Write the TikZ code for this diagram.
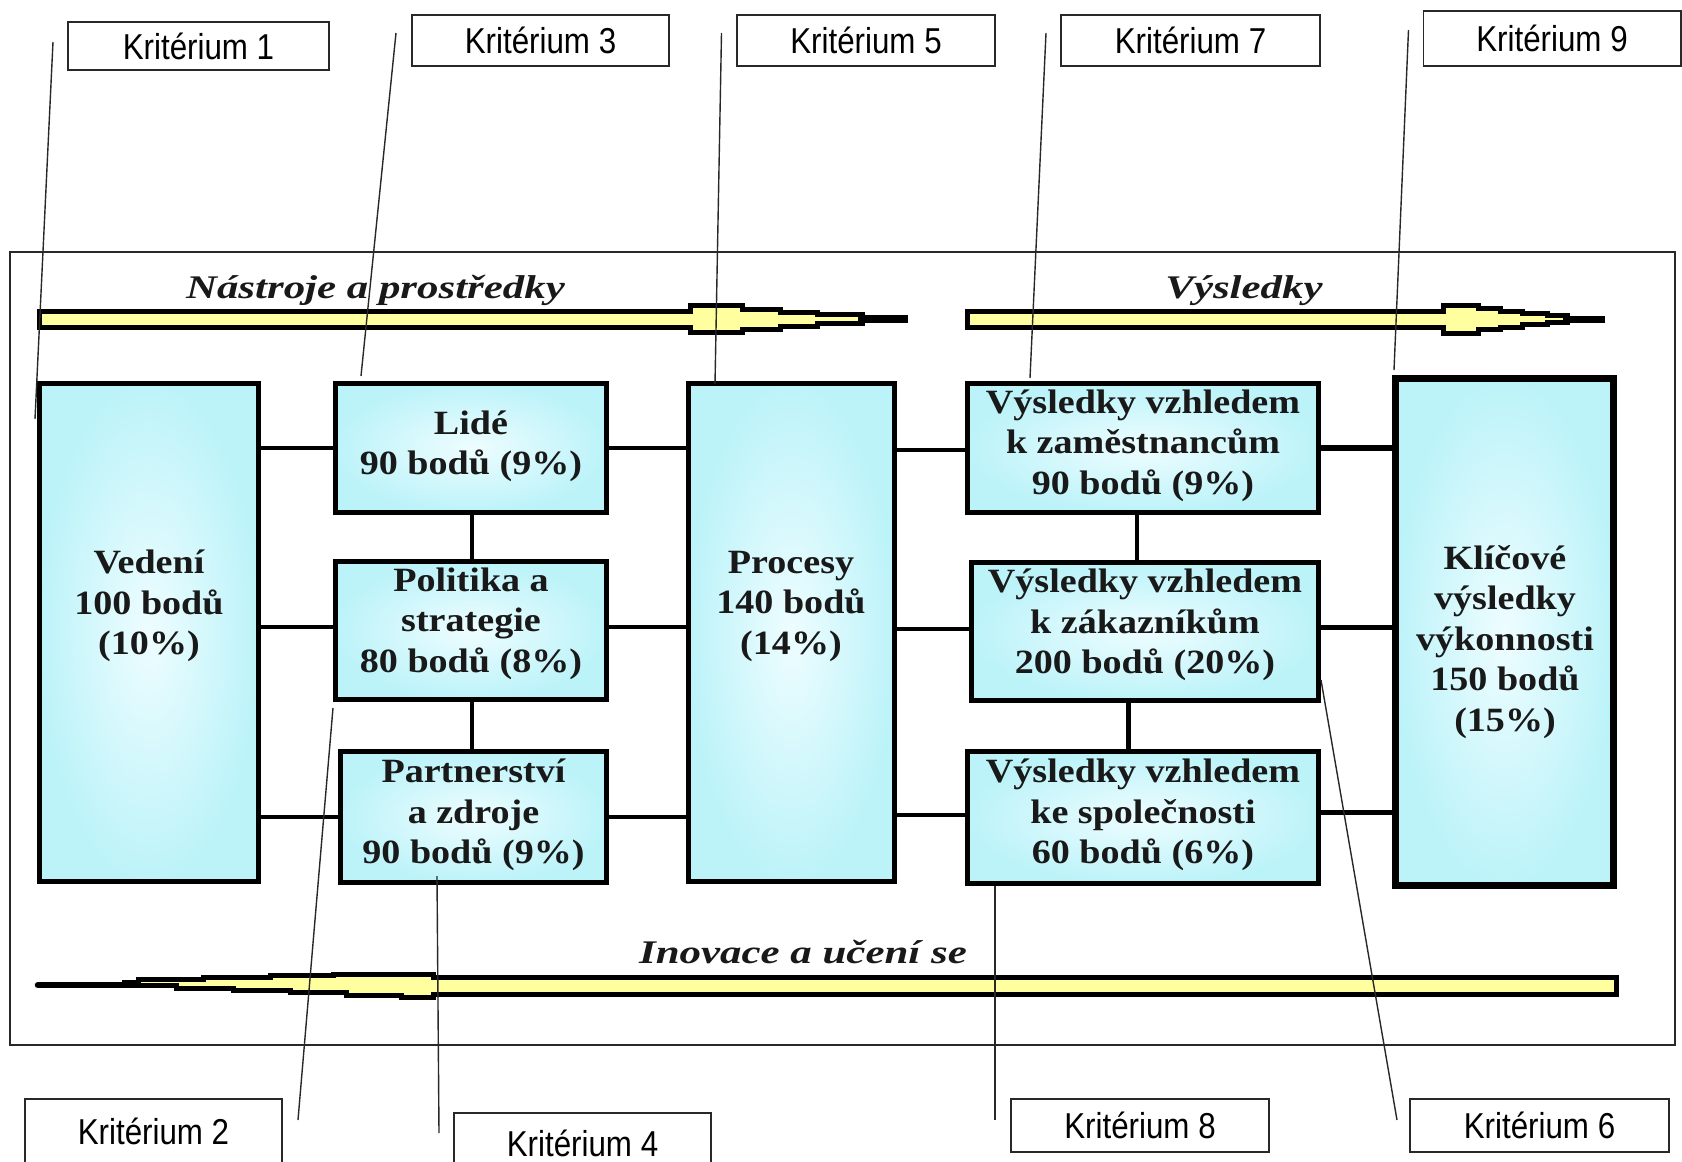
\documentclass[tikz,border=0pt]{standalone}
\usepackage{fontspec}
\setmainfont{Liberation Serif}
\newfontfamily\boxfont[FakeStretch=1.12]{Liberation Serif}
\newfontfamily\flowfont[FakeStretch=1.3]{Liberation Serif}
\newfontfamily\critfont[FakeStretch=0.87]{Liberation Sans}
\usetikzlibrary{calc}

\definecolor{boxedge}{RGB}{188,243,249}
\definecolor{boxmid}{RGB}{238,253,255}
\definecolor{flowyellow}{RGB}{255,255,160}
\definecolor{hair}{RGB}{40,40,40}

\begin{document}
\begin{tikzpicture}[x=1pt,y=-1pt,
  area/.style={draw=black, line width=5pt, inner sep=0pt,
    inner color=boxmid, outer color=boxedge},
  boxtext/.style={font=\boxfont\bfseries\fontsize{34}{40.5}\selectfont,
    align=center, inner sep=0pt, text=black!90},
  crit/.style={draw=hair, line width=1.6pt, fill=white, inner sep=0pt,
    font=\critfont\fontsize{36}{40}\selectfont},
  leader/.style={draw=hair, line width=1.4pt},
  conn/.style={line width=4.3pt},
  connthick/.style={line width=5.7pt},
  flowarrow/.style={draw=black, line width=5pt, fill=flowyellow, line join=miter},
  flowlabel/.style={font=\flowfont\bfseries\itshape\fontsize{33}{36}\selectfont,
    inner sep=0pt, anchor=base, text=black!90}
]
\fill[white] (0,0) rectangle (1682,1162);
\useasboundingbox (0,0) rectangle (1682,1162);

% outer frame
\draw[hair, line width=1.8pt] (10,252) rectangle (1675,1045);

% flow arrows
\draw[flowarrow] (39.5,311) -- (690,311) -- (690,305.5) -- (742,305.5) -- (742,309)
  -- (780,309) -- (780,312) -- (817,312) -- (817,314.5) -- (862,314.5) -- (862,323.5)
  -- (817,323.5) -- (817,326) -- (780,326) -- (780,329) -- (742,329) -- (742,332.5)
  -- (690,332.5) -- (690,327) -- (39.5,327) -- cycle;
\fill (858,315) rectangle (908,323);

\draw[flowarrow] (967.5,311) -- (1443,311) -- (1443,305) -- (1478,305) -- (1478,308.5)
  -- (1500,308.5) -- (1500,311) -- (1522,311) -- (1522,313.5) -- (1547,313.5)
  -- (1547,315.5) -- (1567,315.5) -- (1567,322.5) -- (1547,322.5) -- (1547,324.5)
  -- (1522,324.5) -- (1522,327) -- (1500,327) -- (1500,329.5) -- (1478,329.5)
  -- (1478,333) -- (1443,333) -- (1443,327) -- (967.5,327) -- cycle;
\fill (1563,316) rectangle (1605,323);

\draw[flowarrow] (1616.5,977.5) -- (433,977.5) -- (433,974.2) -- (333,974.2) -- (333,975.8)
  -- (270,975.8) -- (270,977.5) -- (203,977.5) -- (203,979.2) -- (138,979.2)
  -- (138,982.5) -- (124,982.5) -- (124,985.8) -- (176.7,985.8) -- (176.7,988.2)
  -- (233,988.2) -- (233,990.8) -- (290,990.8) -- (290,992.5) -- (346.7,992.5)
  -- (346.7,995.8) -- (401.7,995.8) -- (401.7,997.5) -- (433,997.5) -- (433,994.5)
  -- (1616.5,994.5) -- cycle;
\draw[line width=6.5pt, line cap=round] (38,985.2) -- (126,985.2);

\node[flowlabel] (tools) at (375.5,298) {Nástroje a prostředky};
\node[flowlabel] (results) at (1244,298) {Výsledky};
\node[flowlabel] (learning) at (803,963) {Inovace a učení se};

% criteria boxes
\node[area, minimum width=219, minimum height=498] (vedeni) at (149,632.5) {};
\node[area, minimum width=271, minimum height=129] (lide) at (471,448) {};
\node[area, minimum width=271, minimum height=138] (politika) at (471,630.5) {};
\node[area, minimum width=266, minimum height=131] (partner) at (473.5,817) {};
\node[area, minimum width=206, minimum height=498] (procesy) at (791.5,632.5) {};
\node[area, minimum width=351, minimum height=129] (vkzam) at (1143,448) {};
\node[area, minimum width=347, minimum height=138] (vkzak) at (1145,631.5) {};
\node[area, minimum width=351, minimum height=132] (vkspol) at (1143,817.5) {};
\node[area, line width=7pt, minimum width=218, minimum height=507] (klic) at (1504.5,632) {};

% links between the boxes
\draw[conn] (lide.west) -- (lide.west -| vedeni.east);
\draw[conn] ([yshift=3.5pt]politika.west) -- ([yshift=3.5pt]politika.west -| vedeni.east);
\draw[conn] (partner.west) -- (partner.west -| vedeni.east);
\draw[conn] (lide.east) -- (lide.east -| procesy.west);
\draw[conn] ([yshift=3.5pt]politika.east) -- ([yshift=3.5pt]politika.east -| procesy.west);
\draw[conn] (partner.east) -- (partner.east -| procesy.west);
\draw[conn] ([xshift=1pt]lide.south) -- ([xshift=1pt]lide.south |- politika.north);
\draw[conn] ([xshift=1pt]politika.south) -- ([xshift=1pt]politika.south |- partner.north);
\draw[conn] ([yshift=-2pt]vkzam.west) -- ([yshift=-2pt]vkzam.west -| procesy.east);
\draw[conn] ([yshift=2.5pt]vkzak.west) -- ([yshift=2.5pt]vkzak.west -| procesy.east);
\draw[conn] ([yshift=2.5pt]vkspol.west) -- ([yshift=2.5pt]vkspol.west -| procesy.east);
\draw[conn] ([xshift=-6pt]vkzam.south) -- ([xshift=-6pt]vkzam.south |- vkzak.north);
\draw[conn] ([xshift=-16.5pt]vkzak.south) -- ([xshift=-16.5pt]vkzak.south |- vkspol.north);
\draw[connthick] (vkzam.east) -- (vkzam.east -| klic.west);
\draw[connthick] ([yshift=4pt]vkzak.east) -- ([yshift=4pt]vkzak.east -| klic.west);
\draw[connthick] ([yshift=5pt]vkspol.east) -- ([yshift=5pt]vkspol.east -| klic.west);

% box captions
\node[boxtext] (vedeni-t) at (149,606) {Vedení\\100 bodů\\(10\%)};
\node[boxtext] (lide-t) at (471,446.5) {Lidé\\90 bodů (9\%)};
\node[boxtext] (politika-t) at (471,623.5) {Politika a\\strategie\\80 bodů (8\%)};
\node[boxtext] (partner-t) at (473.5,815) {Partnerství\\a zdroje\\90 bodů (9\%)};
\node[boxtext] (procesy-t) at (791,606) {Procesy\\140 bodů\\(14\%)};
\node[boxtext] (vkzam-t) at (1143,445.7) {Výsledky vzhledem\\k zaměstnancům\\90 bodů (9\%)};
\node[boxtext] (vkzak-t) at (1145,625) {Výsledky vzhledem\\k zákazníkům\\200 bodů (20\%)};
\node[boxtext] (vkspol-t) at (1143,815) {Výsledky vzhledem\\ke společnosti\\60 bodů (6\%)};
\node[boxtext] (klic-t) at (1505,642) {Klíčové\\výsledky\\výkonnosti\\150 bodů\\(15\%)};

% criterion labels
\node[crit, minimum width=261.4, minimum height=48.4] (k1) at (198.5,46) {Kritérium 1};
\node[crit, minimum width=257.4, minimum height=51.4] (k3) at (540.5,40.5) {Kritérium 3};
\node[crit, minimum width=258.4, minimum height=51.4] (k5) at (866,40.5) {Kritérium 5};
\node[crit, minimum width=259.4, minimum height=51.4] (k7) at (1190.5,40.5) {Kritérium 7};
\node[crit, minimum width=257.4, minimum height=55.4] (k9) at (1552,38.5) {Kritérium 9};
\node[crit, minimum width=257.4, minimum height=64.4] (k2) at (153.5,1131) {Kritérium 2};
\node[crit, minimum width=257.4, minimum height=60.4] (k4) at (582.5,1143) {Kritérium 4};
\node[crit, minimum width=258.4, minimum height=53.4] (k8) at (1140,1125.5) {Kritérium 8};
\node[crit, minimum width=259.4, minimum height=53.4] (k6) at (1539.5,1125.5) {Kritérium 6};

% leader lines from each label to its box
\coordinate (k1a) at (53,42);     \coordinate (k1b) at (35,419);
\coordinate (k3a) at (396,33);    \coordinate (k3b) at (361,376);
\coordinate (k5a) at (721.5,33);  \coordinate (k5b) at (715,384);
\coordinate (k7a) at (1046,33);   \coordinate (k7b) at (1030,378);
\coordinate (k9a) at (1408.5,30); \coordinate (k9b) at (1394,370);
\coordinate (k2a) at (298,1120);  \coordinate (k2b) at (333,708);
\coordinate (k4a) at (439,1133);  \coordinate (k4b) at (437,876);
\coordinate (k8a) at (995,1120);  \coordinate (k8b) at (995,886);
\coordinate (k6a) at (1397,1120); \coordinate (k6b) at (1321,680);
\foreach \k in {k1,k3,k5,k7,k9,k2,k4,k8,k6}
  \draw[leader] (\k a) -- (\k b);
\end{tikzpicture}
\end{document}
